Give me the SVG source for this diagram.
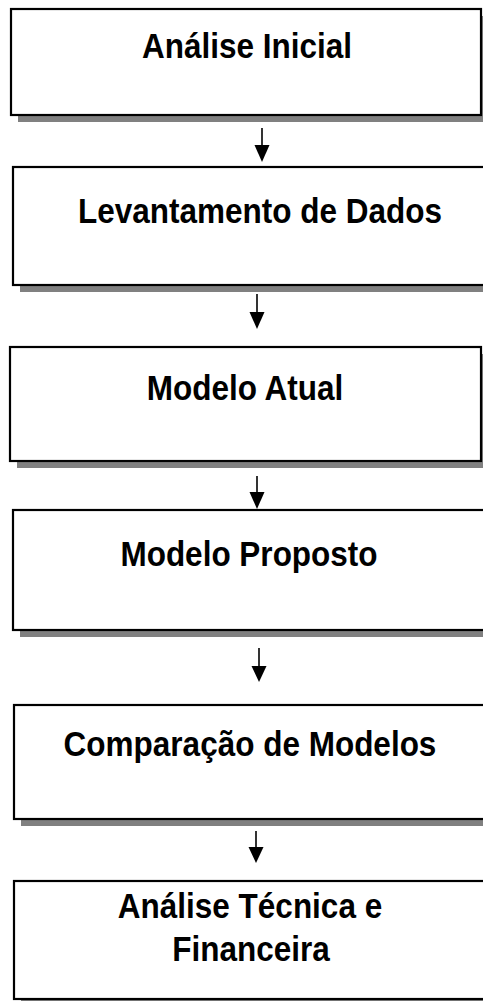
<svg xmlns="http://www.w3.org/2000/svg" width="483" height="1001" viewBox="0 0 483 1001">
<style>
.box{fill:#ffffff;stroke:#000000;stroke-width:2.2}
.shadow{fill:#808080;stroke:none}
.lbl{font-family:"Liberation Sans",Arial,sans-serif;font-weight:bold;font-size:31.5px;fill:#000000;text-anchor:middle}
.conn{stroke:#000000;stroke-width:1.6;fill:none}
.head{fill:#000000;stroke:none}
</style>
<rect width="483" height="1001" fill="#ffffff"/>
<g id="connectors">
<line class="conn" x1="262" y1="128" x2="262" y2="148"/><polygon class="head" points="254.5,145 269.5,145 262,162"/>
<line class="conn" x1="257" y1="294" x2="257" y2="315"/><polygon class="head" points="249.5,312 264.5,312 257,329"/>
<line class="conn" x1="257" y1="476" x2="257" y2="495"/><polygon class="head" points="249.5,492 264.5,492 257,509"/>
<line class="conn" x1="259" y1="648" x2="259" y2="669"/><polygon class="head" points="251.5,666 266.5,666 259,682"/>
<line class="conn" x1="256" y1="831" x2="256" y2="850"/><polygon class="head" points="248.5,847 263.5,847 256,863"/>
</g>
<g id="node1">
<rect class="shadow" x="18" y="16" width="470" height="106"/>
<rect class="box" x="11" y="9" width="470" height="106"/>
<text class="lbl" transform="translate(247,58) scale(1,1.12)">Análise Inicial</text>
</g>
<g id="node2">
<rect class="shadow" x="20" y="174" width="480" height="118"/>
<rect class="box" x="13" y="167" width="480" height="118"/>
<text class="lbl" transform="translate(260,223) scale(1,1.12)">Levantamento de Dados</text>
</g>
<g id="node3">
<rect class="shadow" x="17" y="354" width="471" height="114"/>
<rect class="box" x="10" y="347" width="471" height="114"/>
<text class="lbl" transform="translate(245,400) scale(1,1.12)">Modelo Atual</text>
</g>
<g id="node4">
<rect class="shadow" x="20" y="517" width="480" height="120"/>
<rect class="box" x="13" y="510" width="480" height="120"/>
<text class="lbl" transform="translate(249,566) scale(1,1.12)">Modelo Proposto</text>
</g>
<g id="node5">
<rect class="shadow" x="21" y="712" width="480" height="114"/>
<rect class="box" x="14" y="705" width="480" height="114"/>
<text class="lbl" transform="translate(250,756) scale(1,1.12)">Comparação de Modelos</text>
</g>
<g id="node6">
<rect class="shadow" x="21" y="888" width="480" height="118"/>
<rect class="box" x="14" y="881" width="480" height="118"/>
<text class="lbl" transform="translate(250,918) scale(1,1.12)">Análise Técnica e</text>
<text class="lbl" transform="translate(251,961) scale(1,1.12)">Financeira</text>
</g>
</svg>
